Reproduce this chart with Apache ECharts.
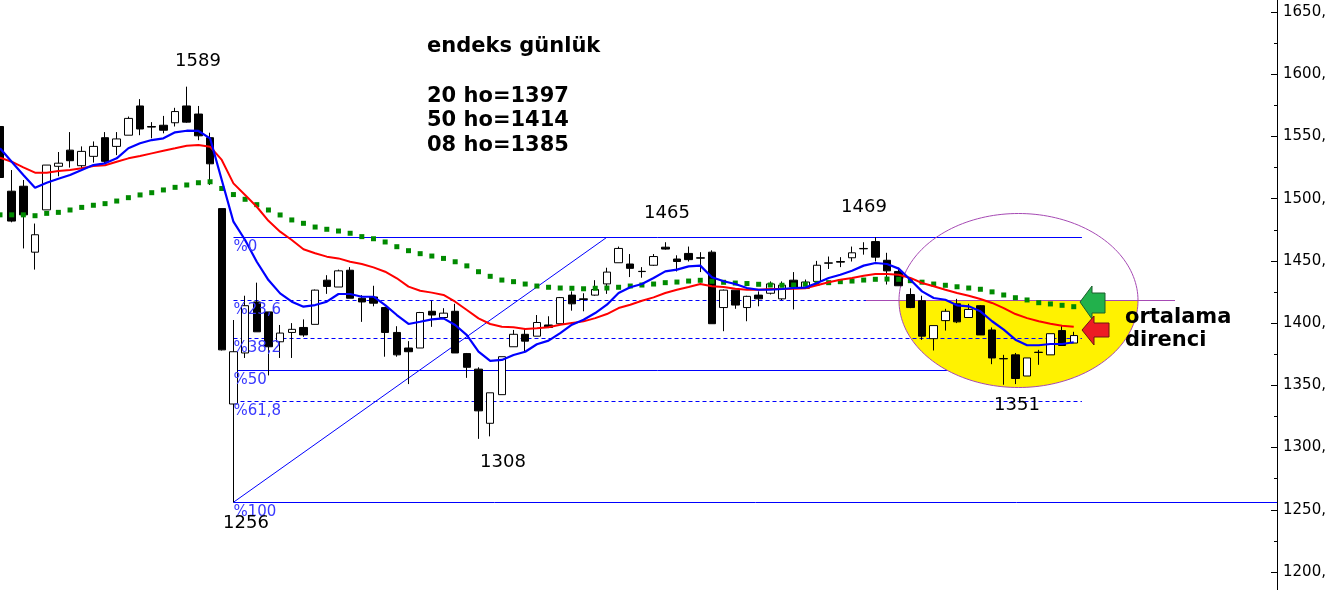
<!DOCTYPE html>
<html><head><meta charset="utf-8">
<script src="https://cdn.jsdelivr.net/npm/echarts@6/dist/echarts.min.js"></script>
<style>html,body{margin:0;padding:0;background:#fff}#c{width:1330px;height:590px}</style>
</head><body><div id="c"></div>
<script>
// ---- data ----
const categories = ['g1','g2','g3','g4','g5','g6','g7','g8','g9','g10','g11','g12','g13','g14','g15','g16','g17','g18','g19','g20','g21','g22','g23','g24','g25','g26','g27','g28','g29','g30','g31','g32','g33','g34','g35','g36','g37','g38','g39','g40','g41','g42','g43','g44','g45','g46','g47','g48','g49','g50','g51','g52','g53','g54','g55','g56','g57','g58','g59','g60','g61','g62','g63','g64','g65','g66','g67','g68','g69','g70','g71','g72','g73','g74','g75','g76','g77','g78','g79','g80','g81','g82','g83','g84','g85','g86','g87','g88','g89','g90','g91','g92','g93'];
const emptySlots = 17; // empty room right of the last candle
const open  = [1558,1506,1510,1457,1491,1526,1539,1526.5,1534,1549,1542,1551,1574.5,1558,1559,1561,1574.5,1568,1549,1492,1335,1376,1417,1409,1385,1392.5,1396.5,1399,1434.5,1429,1442.5,1420,1421,1412.5,1392.5,1380,1380,1409.5,1404.5,1409.5,1375.5,1363,1319.5,1342.5,1381,1391,1389.5,1398.5,1399.5,1422.5,1419.5,1422.5,1431.5,1448.5,1447.5,1441.6,1446.5,1461,1451.5,1456,1452.5,1457,1412.5,1426.5,1412.5,1422.5,1424,1419.5,1434.5,1428,1433.5,1448.4,1449.5,1452.5,1460,1465.5,1450.5,1441.5,1423,1418,1387.5,1402,1415.5,1404.5,1414,1394.5,1371.5,1374.5,1357.5,1376.6,1374.5,1394,1384];
const close = [1517,1482,1487,1471,1527,1528.5,1530.5,1538,1542,1530,1548,1564.5,1556,1557.5,1555,1570,1561.5,1550.5,1528,1378.5,1377,1414,1393,1381,1392,1395,1390.5,1426.5,1429.5,1442,1420,1417,1416,1392.5,1374.5,1377,1408.5,1406.5,1408,1376,1364.5,1329.5,1344,1373,1391,1385.5,1400.5,1396.5,1420.5,1415.5,1419,1427,1441,1460,1444,1441.4,1453.5,1459.5,1449.5,1451,1452.2,1399.5,1426.5,1414.5,1421.5,1419.5,1431.5,1430.5,1429,1433,1446.5,1448.2,1449,1456.5,1459.7,1453,1442,1430,1412.5,1389.5,1398,1409.5,1401,1411,1390.5,1372,1371.3,1355.5,1372,1376.4,1391.5,1382,1390];
const low   = [1514,1481,1460,1443,1491,1518,1525,1523.5,1529,1528,1535,1551,1551,1548.5,1552.5,1558,1561,1547,1511,1378,1256,1372,1393,1358,1372,1372,1389,1399,1423.5,1429,1420,1401,1413.5,1373,1373,1351,1380,1397,1404.5,1376,1356,1307,1309,1342.5,1381,1377,1389.5,1396,1399.5,1410,1409.5,1422,1423.5,1448.5,1437,1436.5,1446,1459,1441.5,1449.5,1441,1399.5,1393.5,1411.5,1401.5,1413.5,1423,1418.5,1411,1428,1433.5,1443.5,1445,1449.5,1455,1449.5,1431,1430,1412,1386.5,1378,1394,1400,1404.5,1390.5,1367,1350.5,1351,1357.5,1366.5,1374.5,1382,1384];
const high  = [1562,1523,1515,1480,1527,1537.5,1553.5,1542,1546,1553.5,1553.5,1566,1580,1561.5,1566.5,1573,1590,1574.5,1553,1492,1402.5,1422,1432.5,1409,1398.5,1400,1403,1427,1438.5,1443,1445,1422.5,1430,1413,1397.5,1385.5,1409,1418,1412,1415.5,1376,1364.5,1344,1373,1394.5,1395.5,1406.5,1405.5,1421,1425.5,1424,1434.5,1444.5,1461.5,1455.5,1445,1455.5,1465,1454.5,1461.5,1457,1458.5,1427,1426.5,1422,1425.5,1433.5,1433.5,1441,1435,1450,1453.5,1453,1461.5,1465,1469,1456.5,1444.5,1428,1422,1398,1411.5,1419.5,1415.5,1414.5,1396.5,1374.5,1376,1372,1378.5,1391.5,1398.5,1393];
// averages: 8-day (blue), 20-day (red), 50-day (green dots)
const ma8  = [1540.5,1529.7,1519,1508.8,1512.8,1516,1519,1523,1527,1528.4,1532.4,1540.5,1544.5,1547.1,1548.5,1553.3,1554.6,1554.4,1548.5,1515,1481.5,1466.8,1449.3,1434.6,1423.9,1417.2,1413.2,1414.5,1417.2,1423.4,1423.4,1421.2,1421.2,1414.5,1406.5,1399.3,1401.1,1403,1403.8,1398.5,1390.4,1377,1369.6,1370.4,1374.4,1377,1383,1385.9,1392,1398.7,1402.7,1408.1,1414.8,1424.2,1428.8,1431.4,1436.3,1441.6,1443,1445.6,1446.2,1436.8,1433.6,1431.4,1428.2,1426.8,1426.8,1427.4,1428.2,1428.5,1432.2,1436.3,1438.9,1442.1,1446.2,1448.3,1447.5,1443.8,1434.9,1425.5,1420.2,1418.8,1414.3,1413.5,1409.5,1401.5,1394.7,1386.7,1382.2,1382.2,1383.2,1383.2,1384.6];
const ma20 = [1533,1529.7,1525.2,1520.9,1520.9,1522.2,1523,1524.4,1526.2,1526.8,1529.7,1532.4,1534.3,1536.4,1538.5,1540.5,1542.6,1543.1,1541.8,1531.1,1512.3,1503,1493.5,1482.2,1473.5,1466.8,1459.3,1456.1,1453.4,1452,1449.3,1447.5,1444.8,1441.3,1436,1429.3,1426,1424.5,1422.6,1417.2,1410.5,1403.8,1399.3,1397.1,1396.6,1395.3,1395.8,1396.6,1398.7,1400.1,1401.4,1404,1407.3,1412.1,1414.8,1418,1420.7,1424.2,1426.8,1429,1431.4,1429.6,1429,1427.6,1426.8,1426.8,1427.4,1427.4,1427.6,1428,1430.4,1432.8,1434.9,1436.3,1438.1,1439.5,1439.5,1438.9,1436.3,1432.2,1429.6,1426.8,1424.2,1422,1419.4,1416.2,1412.1,1407.3,1404,1401.5,1399.5,1397.9,1397.1];
const ma50 = [1487,1487,1487,1486.3,1488.2,1489,1490.9,1493,1494.7,1496,1498.1,1500.8,1503,1504.8,1507,1509.1,1511,1512.8,1513.6,1508.2,1503.3,1499.5,1495.2,1490.9,1486.9,1482.9,1480.2,1477.2,1475.4,1474,1472.2,1469.5,1467.8,1465.2,1461.4,1458.2,1455.8,1453.9,1452,1449.3,1446,1441.3,1437.6,1434.6,1433.3,1431.4,1429.8,1428.8,1428.2,1428,1427.6,1428,1428.2,1428.8,1429.8,1430.6,1431.4,1432.5,1433,1433.8,1434.4,1433.6,1432.8,1432.2,1431.8,1431.2,1430.6,1430.4,1430.6,1431.2,1431.9,1432.5,1433.3,1433.8,1434.6,1435.2,1435.4,1435.2,1434.1,1432.9,1431.4,1430.4,1429.2,1428.2,1427.2,1425.1,1422.6,1420.4,1418.6,1416.4,1415.4,1414.3,1413.2];
const yTicks = {min:1200, max:1650, step:50};
// Fibonacci retracement drawn on the chart
const fibHigh = 1469, fibLow = 1256;
const fibLevels = [0, 23.6, 38.2, 50, 61.8, 100];
const fibLabels = ['%0','%23,6','%38,2','%50','%61,8','%100'];
const fibDashed = [false, true, true, false, true, false];
const fibStart = 20, fibEnd = 92.7, fibDiagEnd = 52;
const peakLabels = [
  {text:'1589', x:198, y:61}, {text:'1465', x:667, y:213}, {text:'1469', x:864, y:207},
  {text:'1308', x:503, y:462}, {text:'1256', x:246, y:523}, {text:'1351', x:1017, y:405}
];
const infoLines = ['endeks günlük', '', '20 ho=1397', '50 ho=1414', '08 ho=1385'];
const noteLines = ['ortalama', 'direnci'];

// ---- chart ----
const allCats = categories.concat(new Array(emptySlots).fill(''));
const candles = open.map((o, i) => [o, close[i], low[i], high[i]]);
const FONT = 'DejaVu Sans';
const FIB_BLUE = '#0000ff';

const chart = echarts.init(document.getElementById('c'));
chart.setOption({
  animation: false,
  backgroundColor: '#ffffff',
  grid: {left: -5.83, right: 52, top: 12, bottom: 18, containLabel: false, outerBoundsMode: 'none'},
  xAxis: {type: 'category', data: allCats, boundaryGap: true, show: false},
  yAxis: {
    type: 'value', position: 'right', min: yTicks.min, max: yTicks.max, interval: yTicks.step,
    axisLine: {show: false},
    axisTick: {show: true, inside: true, length: 7, lineStyle: {color: '#000', width: 1}},
    minorTick: {show: true, splitNumber: 2, length: 4, lineStyle: {color: '#000', width: 1}},
    splitLine: {show: false}, minorSplitLine: {show: false},
    axisLabel: {formatter: v => v + ',', color: '#000', fontSize: 15, fontFamily: FONT, margin: 5, padding: [5, 0, 0, 0]}
  },
  series: [
    {type: 'candlestick', data: candles, barWidth: 8, z: 3,
     itemStyle: {color: '#ffffff', color0: '#000000', borderColor: '#000000', borderColor0: '#000000', borderWidth: 1}},
    {type: 'line', data: ma50, z: 4, symbol: 'rect', symbolSize: 5, showSymbol: true,
     lineStyle: {width: 0, opacity: 0}, itemStyle: {color: '#008a00'}},
    {type: 'line', data: ma20, z: 5, symbol: 'none', lineStyle: {color: '#ff0000', width: 2}},
    {type: 'line', data: ma8, z: 6, symbol: 'none', lineStyle: {color: '#0000ff', width: 2.2}}
  ]
});

const x0 = chart.convertToPixel({xAxisIndex: 0}, 0);
const x1 = chart.convertToPixel({xAxisIndex: 0}, 1);
const gx = i => x0 + (x1 - x0) * i;
const gy = v => chart.convertToPixel({yAxisIndex: 0}, v);
const rightEdge = Math.round(gx(allCats.length - 0.5)) - 0.5;

const g = [];
// axis line over full height
g.push({type: 'line', shape: {x1: rightEdge, y1: 0, x2: rightEdge, y2: 590}, style: {stroke: '#000', lineWidth: 1}, z: 10});

// ellipse annotation (lower half filled yellow)
const eCy = Math.round(gy(fibHigh - (fibHigh - fibLow) * 0.236)) + 0.5;
const eCx = 1018.5, eRx = 119.5, eRy = 87;
const ellipsePts = (a0, a1, n) => {
  const pts = [];
  for (let k = 0; k <= n; k++) { const a = a0 + (a1 - a0) * k / n; pts.push([eCx + eRx * Math.cos(a), eCy + eRy * Math.sin(a)]); }
  return pts;
};
g.push({type: 'polygon', shape: {points: ellipsePts(0, Math.PI, 90)}, style: {fill: '#fff200'}, z: 1});
g.push({type: 'polyline', shape: {points: ellipsePts(0, 2 * Math.PI, 180)}, style: {fill: null, stroke: '#a64ab4', lineWidth: 1}, z: 1.5});
g.push({type: 'line', shape: {x1: 866, y1: eCy, x2: 1175, y2: eCy}, style: {stroke: '#a64ab4', lineWidth: 1}, z: 1.5});

// fibonacci lines and labels
fibLevels.forEach((p, k) => {
  const v = fibHigh - (fibHigh - fibLow) * p / 100;
  const y = Math.round(gy(v)) + 0.5;
  const xs = Math.round(gx(fibStart)) + 0.5, xe = p === 100 ? rightEdge : gx(fibEnd);
  g.push({type: 'line', shape: {x1: xs, y1: y, x2: xe, y2: y},
    style: {stroke: FIB_BLUE, lineWidth: 1, lineDash: fibDashed[k] ? [4, 3] : null}, z: p === 50 ? 0.5 : 1.2});
  g.push({type: 'text', x: xs, y: y + 2, style: {text: fibLabels[k], fill: '#3a3aff', font: `15px "${FONT}"`, textAlign: 'left', textVerticalAlign: 'top'}, z: 8});
});
// diagonal of the retracement
g.push({type: 'line', shape: {x1: gx(fibStart), y1: gy(fibLow), x2: gx(fibDiagEnd), y2: gy(fibHigh)}, style: {stroke: FIB_BLUE, lineWidth: 1}, z: 1.2});

// peak/trough labels
peakLabels.forEach(p => g.push({type: 'text', x: p.x, y: p.y,
  style: {text: p.text, fill: '#000', font: `18px "${FONT}"`, textAlign: 'center', textVerticalAlign: 'middle'}, z: 9}));
// info block
const infoY = [47, 72, 97, 121, 146];
infoLines.forEach((t, k) => { if (t) g.push({type: 'text', x: 427, y: infoY[k],
  style: {text: t, fill: '#000', font: `bold 21px "${FONT}"`, textAlign: 'left', textVerticalAlign: 'middle'}, z: 9}); });
const noteY = [318, 341];
noteLines.forEach((t, k) => g.push({type: 'text', x: 1125, y: noteY[k],
  style: {text: t, fill: '#000', font: `bold 21px "${FONT}"`, textAlign: 'left', textVerticalAlign: 'middle'}, z: 9}));

// arrows
g.push({type: 'polygon', shape: {points: [[1080,302],[1092,286],[1092,293],[1105,293],[1105,313],[1092,313],[1092,319]]},
  style: {fill: '#22b14c', stroke: '#1d5e2c', lineWidth: 1}, z: 9});
g.push({type: 'polygon', shape: {points: [[1082,330],[1094,316],[1094,323],[1109,323],[1109,337],[1094,337],[1094,345]]},
  style: {fill: '#ed1c24', stroke: '#6e1414', lineWidth: 1}, z: 9});

chart.setOption({graphic: {elements: g}});
</script>
</body></html>
